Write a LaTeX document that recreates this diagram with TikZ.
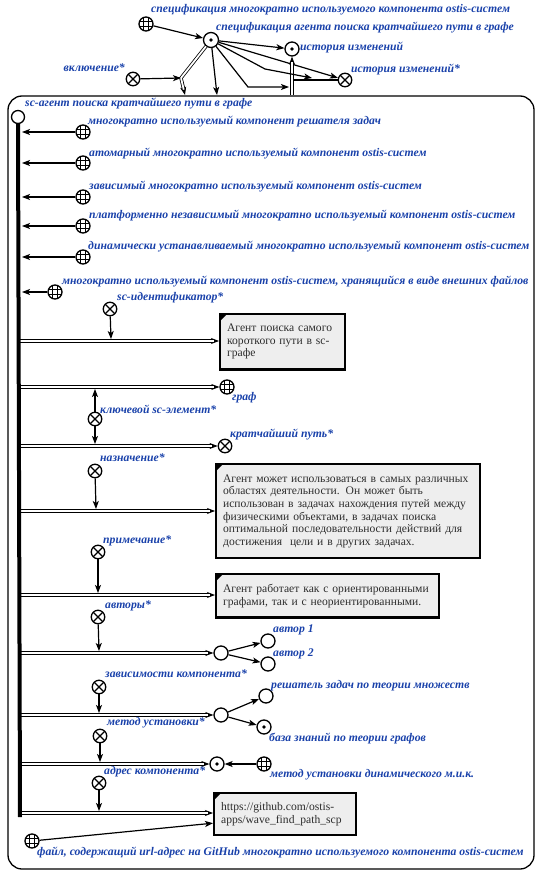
\documentclass[tikz,border=0pt]{standalone}
\usepackage{fontspec}
\setmainfont{Liberation Serif}
\usetikzlibrary{arrows.meta}
\definecolor{lblue}{RGB}{25,65,170}
\definecolor{boxgray}{RGB}{238,238,238}
\definecolor{boxtext}{RGB}{45,45,45}

\begin{document}
\begin{tikzpicture}[x=1pt,y=-1pt,
  sctip/.tip={Stealth[length=8pt,width=6pt,inset=2pt]},
  arc/.style={line width=1.2pt,-{sctip}},
  common/.style={line width=.8pt,-{sctip},
    postaction={draw,arrows=-,double=white,double distance=1.8pt,line width=.8pt,shorten >=5.5pt}},
  scnode/.style={circle,draw,line width=1.3pt,minimum size=14pt,inner sep=0pt,fill=white},
  cls/.style={scnode,path picture={
    \foreach \d in {-2.4pt,2.4pt}{
      \draw[black,line width=.6pt] ([xshift=\d]path picture bounding box.north) -- ([xshift=\d]path picture bounding box.south);
      \draw[black,line width=.6pt] ([yshift=\d]path picture bounding box.west) -- ([yshift=\d]path picture bounding box.east);}}},
  rel/.style={scnode,minimum size=13.5pt,path picture={
    \draw[black,line width=1.1pt] (path picture bounding box.north west) -- (path picture bounding box.south east)
      (path picture bounding box.north east) -- (path picture bounding box.south west);}},
  struct/.style={scnode,path picture={\fill[black] (path picture bounding box.center) circle (1.8pt);}},
  elem/.style={scnode},
  lbl/.style={font=\fontsize{11.7}{13}\selectfont\bfseries\itshape,text=lblue,inner sep=0pt,anchor=west},
  txt/.style={draw,line width=2.2pt,fill=boxgray,text=boxtext,font=\fontsize{11.6}{12.6}\selectfont,
    align=left,anchor=north west,inner xsep=7pt,inner ysep=10pt,
    path picture={\fill[black] ([shift={(1pt,-1pt)}]path picture bounding box.north west) -- ++(5pt,0pt) -- ++(-5pt,-5pt) -- cycle;}}
]
\useasboundingbox (0,0) rectangle (541,877);

% contour of the agent description
\draw[line width=1.3pt,rounded corners=14pt] (8,96) rectangle (534,869);

% ---------- specification block above the contour ----------
\node[cls] (specM) at (146,24) {};
\node[lbl] (specMl) at (151,10) {спецификация многократно используемого компонента ostis-систем};
\node[struct,minimum size=15pt] (specA) at (211,40) {};
\node[lbl] (specAl) at (216,28) {спецификация агента поиска кратчайшего пути в графе};
\node[struct] (hist) at (292,49) {};
\node[lbl] (histl) at (300,48) {история изменений};
\node[rel] (hstar) at (345,80) {};
\node[lbl] (hstarl) at (351,70) {история изменений*};
\node[rel] (incl) at (133,79) {};
\node[lbl,anchor=east] (incll) at (125,68) {включение*};

\coordinate (k1) at (181,78);
\coordinate (k2) at (185,95);
\coordinate (top1) at (217,95);
\coordinate (hbase) at (292,95);
\coordinate (m1) at (248,87);
\coordinate (m2) at (289,87);
\coordinate (n1) at (265,69);
\coordinate (n2) at (312,78);
\coordinate (h1) at (294,80);

\draw[arc] (specM) -- (specA);
\draw[common] (specA) -- (k1) -- (k2);
\draw[arc] (incl) -- (k1);
\draw[arc] (specA) -- (top1);
\draw[arc] (specA) -- (hist);
\draw[arc] (specA) -- (hstar);
\draw[common] (hbase) -- (hist);
\draw[line width=1.2pt] (h1) -- (hstar);
\draw[arc] (specA) -- (m1) -- (m2);
\draw[arc] (specA) -- (n1) -- (n2);

% ---------- the agent and its classes ----------
\node[elem,minimum size=13pt] (agent) at (18,117) {};
\node[lbl] (agentl) at (25,104) {sc-агент поиска кратчайшего пути в графе};
\coordinate (busend) at (20,817);

\node[cls] (c1) at (83,132) {};
\node[lbl] (c1l) at (88,122) {многократно используемый компонент решателя задач};
\node[cls] (c2) at (83,163) {};
\node[lbl] (c2l) at (89,154) {атомарный многократно используемый компонент ostis-систем};
\node[cls] (c3) at (83,197) {};
\node[lbl] (c3l) at (89,187) {зависимый многократно используемый компонент ostis-систем};
\node[cls] (c4) at (83,226) {};
\node[lbl] (c4l) at (89,216) {платформенно независимый многократно используемый компонент ostis-систем};
\node[cls] (c5) at (83,257) {};
\node[lbl] (c5l) at (88,247) {динамически устанавливаемый многократно используемый компонент ostis-систем};
\node[cls] (c6) at (55,292) {};
\node[lbl] (c6l) at (62,282) {многократно используемый компонент ostis-систем, хранящийся в виде внешних файлов};

\foreach \c/\y in {c1/132,c2/163,c3/197,c4/226,c5/257,c6/292}
  \draw[arc] (\c) -- (22,\y);

% ---------- relation pairs ----------
\coordinate (b1) at (20,341);
\coordinate (b2) at (20,387);
\coordinate (b3) at (20,446);
\coordinate (b4) at (20,511);
\coordinate (b5) at (20,595);
\coordinate (b6) at (20,653);
\coordinate (b7) at (20,715);
\coordinate (b8) at (20,764);
\coordinate (b9) at (20,813);

% sc-identifier
\node[txt,text width=111pt] (box1) at (219,313) {Агент поиска самого\\короткого пути в sc-\\графе};
\node[rel] (r1) at (110,309) {};
\node[lbl] (r1l) at (117,298) {sc-идентификатор*};
\draw[common] (b1) -- (b1 -| box1.west);
\coordinate (p1) at (111,339);
\draw[arc] (r1) -- (p1);

% key sc-elements
\node[cls] (graph) at (227,387) {};
\node[lbl] (graphl) at (232,398) {граф};
\node[rel] (spath) at (225,446) {};
\node[lbl] (spathl) at (230,435) {кратчайший путь*};
\node[rel] (r2) at (95,419) {};
\node[lbl] (r2l) at (100,409) {ключевой sc-элемент*};
\draw[common] (b2) -- (graph);
\draw[common] (b3) -- (spath);
\coordinate (p2a) at (95,389);
\coordinate (p2b) at (95,444);
\draw[arc] (r2) -- (p2a);
\draw[arc] (r2) -- (p2b);

% purpose
\node[txt,text width=250pt,inner ysep=10.5pt] (box2) at (215,463) {Агент может использоваться в самых различных\\областях деятельности. Он может быть\\использован в задачах нахождения путей между\\физическими объектами, в задачах поиска\\оптимальной последовательности действий для\\достижения~ цели и в других задачах.};
\node[rel] (r3) at (95,471) {};
\node[lbl] (r3l) at (100,458) {назначение*};
\draw[common] (b4) -- (b4 -| box2.west);
\coordinate (p3) at (96,509);
\draw[arc] (r3) -- (p3);

% note
\node[txt,text width=209pt] (box3) at (215,573) {Агент работает как с ориентированными\\графами, так и с неориентированными.};
\node[rel] (r4) at (98,552) {};
\node[lbl] (r4l) at (103,541) {примечание*};
\draw[common] (b5) -- (b5 -| box3.west);
\coordinate (p4) at (98,593);
\draw[arc] (r4) -- (p4);

% authors
\node[elem] (tup1) at (221,653) {};
\node[elem] (au1) at (268,641) {};
\node[lbl] (au1l) at (273,630) {автор 1};
\node[elem] (au2) at (268,664) {};
\node[lbl] (au2l) at (273,654) {автор 2};
\node[rel] (r5) at (98,617) {};
\node[lbl] (r5l) at (105,606) {авторы*};
\draw[common] (b6) -- (tup1);
\draw[arc] (tup1) -- (au1);
\draw[arc] (tup1) -- (au2);
\coordinate (p5) at (99,651);
\draw[arc] (r5) -- (p5);

% component dependencies
\node[elem] (tup2) at (221,715) {};
\node[elem] (solver) at (266,696) {};
\node[lbl] (solverl) at (271,686) {решатель задач по теории множеств};
\node[struct] (kb) at (264,727) {};
\node[lbl] (kbl) at (269,739) {база знаний по теории графов};
\node[rel] (r6) at (99,687) {};
\node[lbl] (r6l) at (105,674) {зависимости компонента*};
\draw[common] (b7) -- (tup2);
\draw[arc] (tup2) -- (solver);
\draw[arc] (tup2) -- (kb);
\coordinate (p6) at (99,713);
\draw[arc] (r6) -- (p6);

% installation method
\node[struct] (inst) at (217,764) {};
\node[cls] (instc) at (264,764) {};
\node[lbl] (instcl) at (270,775) {метод установки динамического м.и.к.};
\node[rel] (r7) at (100,736) {};
\node[lbl] (r7l) at (107,723) {метод установки*};
\draw[common] (b8) -- (inst);
\draw[arc] (instc) -- (inst);
\coordinate (p7) at (100,762);
\draw[arc] (r7) -- (p7);

% component address
\node[txt,text width=128pt,inner ysep=9.5pt] (box4) at (213,792) {https://github.com/ostis-\\apps/wave\_find\_path\_scp};
\node[rel] (r8) at (99,783) {};
\node[lbl] (r8l) at (104,772) {адрес компонента*};
\draw[common] (b9) -- (b9 -| box4.west);
\coordinate (p8) at (99,811);
\draw[arc] (r8) -- (p8);
\node[cls] (file) at (32,841) {};
\node[lbl] (filel) at (37,853) {файл, содержащий url-адрес на GitHub многократно используемого компонента ostis-систем};
\draw[arc] (file) -- ([yshift=-9pt]box4.west);

% the agent's bus, drawn over the starting ends of the pairs
\draw[line width=4pt] (agent.south) -- (busend);
\end{tikzpicture}
\end{document}
